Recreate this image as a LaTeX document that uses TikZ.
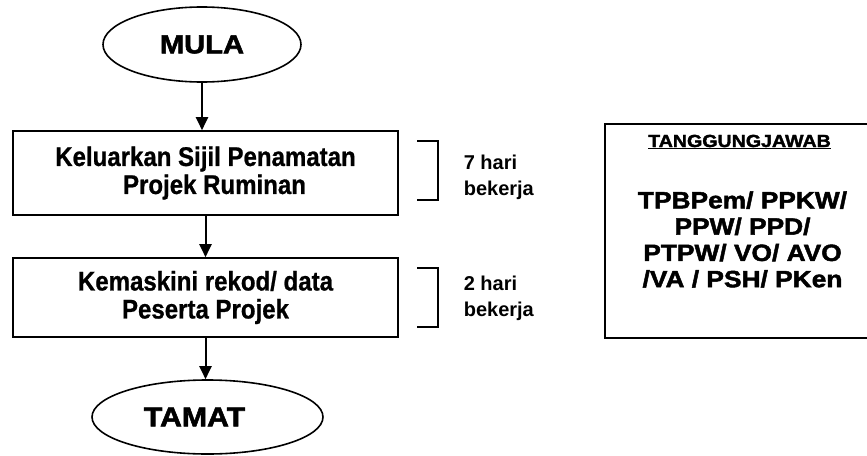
\documentclass[tikz,border=0pt]{standalone}
\usepackage{fontspec}
\setmainfont{Liberation Sans}
\newfontfamily\blackfont{Liberation Sans Bold}[FakeStretch=1.12, FakeBold=2]
\newfontfamily\narrowfont{Liberation Sans Bold}[FakeStretch=0.89, FakeBold=0.8]
\usetikzlibrary{shapes.geometric,arrows.meta}

\begin{document}
\begin{tikzpicture}[x=1pt, y=-1pt, line width=1.6pt,
	main/.style = {draw, ellipse, minimum width=198, minimum height=75, inner sep=0pt, font=\fontsize{26}{30}\blackfont},
	proc/.style = {draw, rectangle, minimum width=385, minimum height=84, align=center, font=\fontsize{27}{28}\narrowfont},
	flow/.style = {-{Triangle[width=12pt,length=13pt]}, line width=2pt},
	brak/.style = {line width=2pt},
	hari/.style = {align=left, anchor=west, inner sep=0pt, font=\fontsize{20}{26}\selectfont\bfseries}] 
			\useasboundingbox (0,0) rectangle (867,455);
			\node[main] (1) at (202,44.5) {MULA}; 
			\node[proc] (2) at (205.5,173) {Keluarkan Sijil Penamatan\\\makebox[18pt]{}Projek Ruminan};
			\node[proc, minimum height=79] (3) at (205.5,297.5) {Kemaskini rekod/ data\\Peserta Projek};
			\node[main, minimum width=231, minimum height=74, font=\fontsize{27}{30}\blackfont] (4) at (207.5,417) {TAMAT\makebox[26pt]{}};
			\node[hari] (5) at (463,177.7) {7 hari\\bekerja};
			\node[hari] (6) at (463,298.2) {2 hari\\bekerja};
			\node[draw, minimum width=263.5, minimum height=214, inner sep=0pt] (7) at (736.75,231) {};
			\node[anchor=base, font=\fontsize{17.5}{20}\blackfont] (8) at (739.5,147) {\underline{TANGGUNGJAWAB}};
			\node[align=center, font=\fontsize{23.5}{26.3}\blackfont] (9) at (742.5,239.5) {TPBPem/ PPKW/\\PPW/ PPD/\\PTPW/ VO/ AVO\\/VA / PSH/ PKen};
			\draw[flow] (1.south) -- (1.south |- 2.north);
			\draw[flow] (2) -- (3);
			\draw[flow] (3.south) -- (3.south |- 4.north);
			\draw[brak] (417,141) -- (438,141) -- (438,200) -- (417,200);
			\draw[brak] (417,268) -- (438,268) -- (438,327) -- (417,327);
		\end{tikzpicture}
\end{document}
